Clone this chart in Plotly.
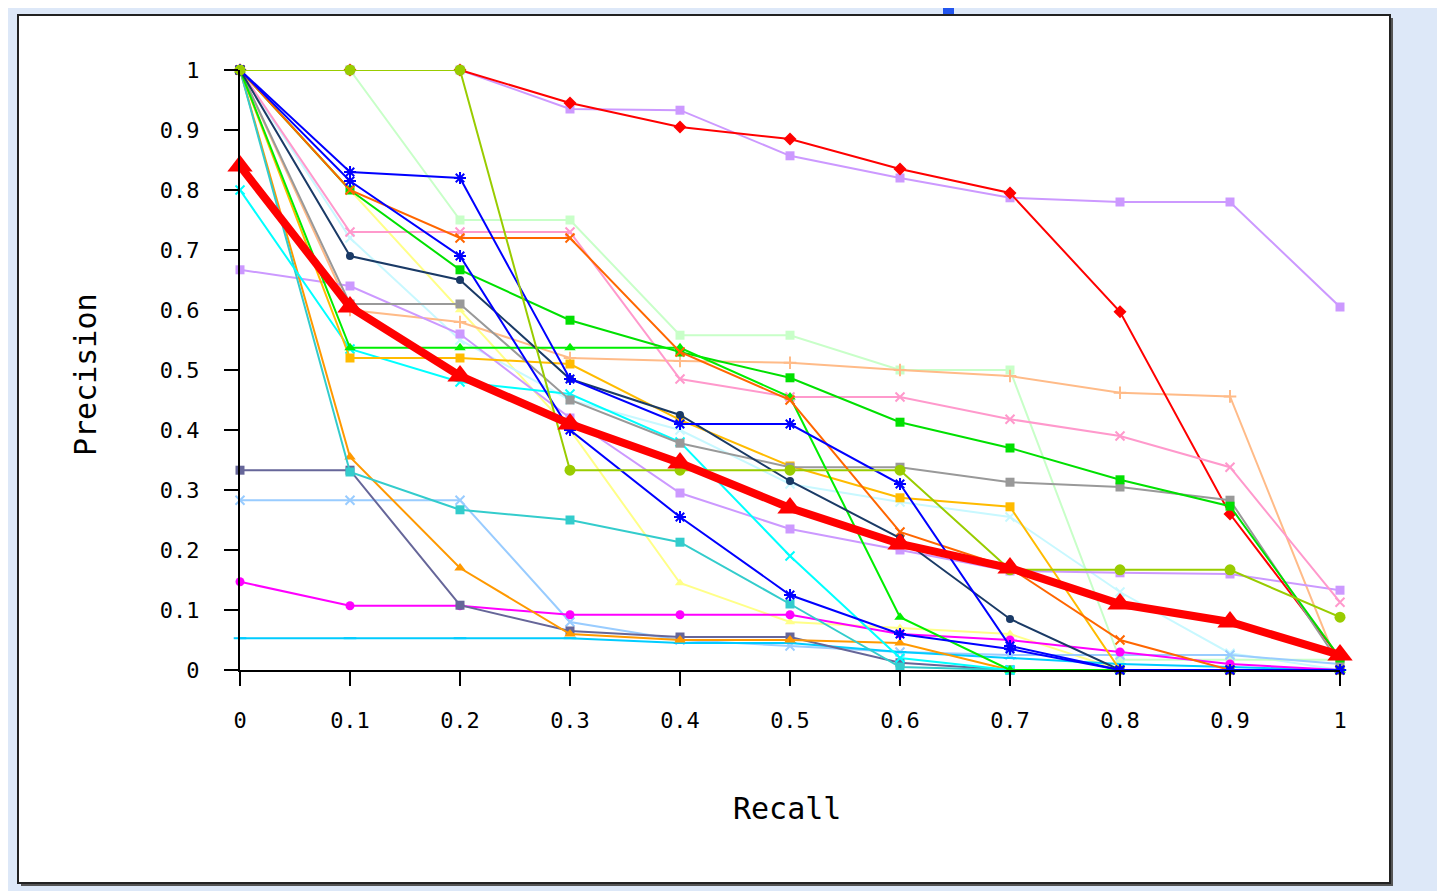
import plotly.graph_objects as go

W, H = 1445, 891
OFF = 8  # page body margin offset
L, R, T, B = 240 - OFF, 105 + OFF, 70 - OFF, 221 + OFF

recall = [0, 0.1, 0.2, 0.3, 0.4, 0.5, 0.6, 0.7, 0.8, 0.9, 1.0]
tick_vals = [0, 0.1, 0.2, 0.3, 0.4, 0.5, 0.6, 0.7, 0.8, 0.9, 1.0]
tick_text = ["0", "0.1", "0.2", "0.3", "0.4", "0.5", "0.6", "0.7", "0.8", "0.9", "1"]

# precision values per query
q_red = [1.0, 1.0, 1.0, 0.945, 0.905, 0.885, 0.835, 0.795, 0.597, 0.26, 0.02]
q_lavender_top = [1.0, 1.0, 1.0, 0.935, 0.933, 0.857, 0.82, 0.787, 0.78, 0.78, 0.605]
q_yellowgreen = [1.0, 1.0, 1.0, 0.333, 0.333, 0.333, 0.333, 0.167, 0.167, 0.167, 0.088]
q_palegreen = [1.0, 1.0, 0.75, 0.75, 0.558, 0.558, 0.5, 0.5, 0.017, 0.017, 0.017]
q_blue_a = [1.0, 0.83, 0.82, 0.485, 0.41, 0.41, 0.31, 0.04, 0.0, 0.0, 0.0]
q_blue_b = [1.0, 0.815, 0.69, 0.40, 0.255, 0.125, 0.06, 0.035, 0.0, 0.0, 0.0]
q_navy = [1.0, 0.69, 0.65, 0.485, 0.425, 0.315, 0.22, 0.085, 0.0, 0.0, 0.0]
q_orangered = [1.0, 0.80, 0.72, 0.72, 0.53, 0.45, 0.23, 0.17, 0.05, 0.0, 0.0]
q_pink = [1.0, 0.73, 0.73, 0.73, 0.485, 0.455, 0.455, 0.418, 0.39, 0.338, 0.113]
q_peach = [1.0, 0.60, 0.58, 0.52, 0.515, 0.512, 0.50, 0.49, 0.462, 0.456, 0.0]
q_gold = [1.0, 0.52, 0.52, 0.51, 0.417, 0.34, 0.287, 0.272, 0.0, 0.0, 0.0]
q_green_a = [1.0, 0.80, 0.667, 0.583, 0.53, 0.487, 0.413, 0.37, 0.317, 0.273, 0.02]
q_green_b = [1.0, 0.537, 0.537, 0.537, 0.537, 0.455, 0.088, 0.0, 0.0, 0.0, 0.0]
q_gray = [1.0, 0.61, 0.61, 0.45, 0.378, 0.338, 0.338, 0.313, 0.305, 0.283, 0.01]
q_cyan = [0.80, 0.535, 0.48, 0.46, 0.38, 0.19, 0.02, 0.0, 0.0, 0.0, 0.0]
q_teal = [1.0, 0.33, 0.267, 0.25, 0.213, 0.11, 0.005, 0.0, 0.0, 0.0, 0.0]
q_orange = [1.0, 0.355, 0.17, 0.06, 0.05, 0.05, 0.045, 0.0, 0.0, 0.0, 0.0]
q_slate = [0.333, 0.333, 0.108, 0.065, 0.055, 0.055, 0.012, 0.0, 0.0, 0.0, 0.0]
q_lightblue = [0.283, 0.283, 0.283, 0.08, 0.05, 0.04, 0.03, 0.025, 0.025, 0.025, 0.01]
q_magenta = [0.147, 0.107, 0.107, 0.092, 0.092, 0.092, 0.06, 0.05, 0.03, 0.01, 0.0]
q_sky = [0.053, 0.053, 0.053, 0.053, 0.045, 0.045, 0.03, 0.02, 0.01, 0.005, 0.0]
q_paleyellow = [1.0, 0.8, 0.6, 0.4, 0.145, 0.08, 0.07, 0.06, 0.0, 0.0, 0.0]
q_lightcyan = [1.0, 0.72, 0.55, 0.45, 0.40, 0.31, 0.28, 0.255, 0.13, 0.028, 0.0]
q_lavender_b = [0.667, 0.64, 0.56, 0.42, 0.295, 0.235, 0.2, 0.165, 0.162, 0.16, 0.133]
mean_precision = [0.84, 0.605, 0.49, 0.41, 0.345, 0.27, 0.21, 0.17, 0.11, 0.08, 0.025]

series = [
    (q_paleyellow, "#ffff88", "triangle-up", 9),
    (q_lightcyan, "#c8f8ff", "x-thin", 9),
    (q_palegreen, "#c8ffc8", "square", 9),
    (q_peach, "#ffbb88", "cross-thin", 9),
    (q_lavender_b, "#cc99ff", "square", 9),
    (q_lavender_top, "#cc99ff", "square", 9),
    (q_red, "#ff0000", "diamond", 10),
    (q_pink, "#ff99cc", "x-thin", 9),
    (q_lightblue, "#99ccff", "x-thin", 9),
    (q_sky, "#00ccff", "line-ew", 9),
    (q_magenta, "#ff00ff", "circle", 9),
    (q_slate, "#666699", "square", 9),
    (q_orange, "#ff9900", "triangle-up", 10),
    (q_teal, "#33cccc", "square", 9),
    (q_cyan, "#00ffff", "x-thin", 9),
    (q_gold, "#ffbb00", "square", 9),
    (q_gray, "#999999", "square", 9),
    (q_green_a, "#00e000", "square", 9),
    (q_green_b, "#00ee00", "triangle-up", 10),
    (q_orangered, "#ff6600", "x-thin", 9),
    (q_navy, "#1a3a66", "circle", 8),
    (q_blue_b, "#0000ff", "asterisk-open", 10),
    (q_blue_a, "#0000ff", "asterisk-open", 10),
    (q_yellowgreen, "#99cc00", "circle", 11),
]

fig = go.Figure()
for vals, col, sym, msize in series:
    open_sym = sym.endswith("thin") or sym.endswith("open") or sym == "line-ew"
    fig.add_trace(go.Scatter(
        x=recall, y=vals, mode="lines+markers",
        line=dict(color=col, width=2),
        marker=dict(symbol=sym, size=msize, color=col,
                    line=dict(color=col, width=2 if open_sym else 0)),
        cliponaxis=False, showlegend=False, hoverinfo="skip"))

fig.add_trace(go.Scatter(
    x=recall, y=mean_precision, mode="lines+markers",
    line=dict(color="#ff0000", width=8),
    marker=dict(symbol="triangle-up", size=22, color="#ff0000"),
    cliponaxis=False, showlegend=False, hoverinfo="skip"))


def px_x(p):
    # p given in screen pixels
    return (p - OFF - L) / (W - L - R)


def px_y(p):
    return (H - B - (p - OFF)) / (H - T - B)


shapes = [
    dict(type="rect", xref="paper", yref="paper",
         x0=px_x(21), x1=px_x(1393), y0=px_y(18), y1=px_y(886),
         fillcolor="#555555", line=dict(width=0), layer="below"),
    dict(type="rect", xref="paper", yref="paper",
         x0=px_x(18), x1=px_x(1390), y0=px_y(15), y1=px_y(883),
         fillcolor="white", line=dict(color="#222222", width=2), layer="below"),
    dict(type="rect", xref="paper", yref="paper",
         x0=px_x(943), x1=px_x(954), y0=px_y(8), y1=px_y(14),
         fillcolor="#2255ee", line=dict(width=0), layer="below"),
]

tick_font = dict(family="DejaVu Sans Mono", size=22, color="black")
fig.update_layout(
    width=W, height=H,
    margin=dict(l=L, r=R, t=T, b=B),
    paper_bgcolor="#dde8f8",
    plot_bgcolor="rgba(0,0,0,0)",
    shapes=shapes,
    xaxis=dict(range=[0, 1], tickvals=tick_vals, ticktext=tick_text,
               showgrid=False, zeroline=False, showline=True,
               linecolor="black", linewidth=2, ticks="outside",
               ticklen=14, tickwidth=2, tickcolor="black",
               tickfont=tick_font, ticklabelstandoff=16),
    yaxis=dict(range=[0, 1], tickvals=tick_vals, ticktext=tick_text,
               showgrid=False, zeroline=False, showline=True,
               linecolor="black", linewidth=2, ticks="outside",
               ticklen=14, tickwidth=2, tickcolor="black",
               tickfont=tick_font, ticklabelstandoff=20),
    annotations=[
        dict(text="Precision", xref="paper", yref="paper",
             x=px_x(85), y=px_y(375), showarrow=False, textangle=-90,
             font=dict(family="DejaVu Sans Mono", size=30, color="black"),
             xanchor="center", yanchor="middle"),
        dict(text="Recall", xref="paper", yref="paper",
             x=px_x(787), y=px_y(808), showarrow=False,
             font=dict(family="DejaVu Sans Mono", size=30, color="black"),
             xanchor="center", yanchor="middle"),
    ],
)

fig.write_html("out.html")
